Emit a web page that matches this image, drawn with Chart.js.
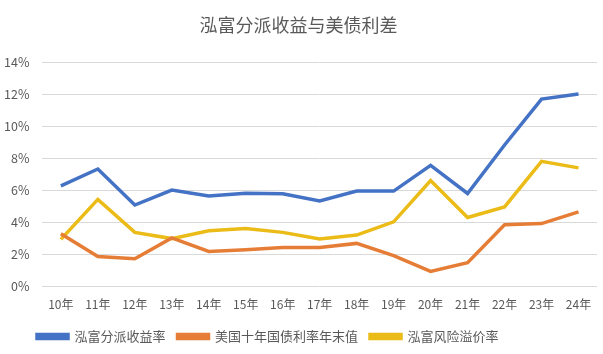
<!DOCTYPE html>
<html>
<head>
<meta charset="utf-8">
<script src="https://cdn.jsdelivr.net/npm/chart.js@4/dist/chart.umd.min.js"></script>
<style>
  html, body { margin: 0; padding: 0; background: #fff; }
  #wrap { width: 603px; height: 354px; }
</style>
</head>
<body>
<div id="wrap"><canvas id="grafico"></canvas></div>
<script>
// categorias e séries (%)
const anos = ["10年", "11年", "12年", "13年", "14年", "15年", "16年", "17年", "18年", "19年", "20年", "21年", "22年", "23年", "24年"];
const rendimento = [6.3, 7.35, 5.1, 6.03, 5.66, 5.84, 5.8, 5.35, 5.97, 5.97, 7.58, 5.82, 8.85, 11.72, 12.04];
const treasury = [3.3, 1.88, 1.74, 3.04, 2.2, 2.3, 2.45, 2.45, 2.7, 1.94, 0.95, 1.49, 3.86, 3.94, 4.67];
const premio = [2.95, 5.45, 3.39, 3.0, 3.49, 3.63, 3.39, 2.97, 3.22, 4.05, 6.63, 4.32, 4.98, 7.83, 7.42];
const yTicks = [0, 2, 4, 6, 8, 10, 12, 14];

const fonte = '"Noto Sans CJK SC", "Noto Sans", sans-serif';
const cinza = '#595959';

function serie(label, data, cor) {
    return {
        label,
        data,
        borderColor: cor,
        backgroundColor: cor,
        borderWidth: 3.5,
        pointRadius: 0,
        tension: 0,
        fill: false
    };
}

// a legenda do original fica um pouco à esquerda do centro
const deslocaLegenda = {
    id: 'deslocaLegenda',
    afterLayout(chart) {
        const lg = chart.legend;
        if (!lg || !lg.lineWidths) return;
        const inicio = 37;
        const atual = (lg.left + lg.options.labels.padding + lg.right - lg.lineWidths[0]) / 2;
        const dx = inicio - atual;
        lg.left += dx;
        lg.right += dx;
    }
};

new Chart(document.getElementById('grafico').getContext('2d'), {
    type: 'line',
    data: {
        labels: anos,
        datasets: [
            serie('泓富分派收益率', rendimento, '#4472C4'),
            serie('美国十年国债利率年末值', treasury, '#E67D36'),
            serie('泓富风险溢价率', premio, '#EBBB18')
        ]
    },
    options: {
        responsive: true,
        maintainAspectRatio: false,
        animation: false,
        layout: { padding: { left: 0, right: 6, top: 8, bottom: 1 } },
        plugins: {
            title: {
                display: true,
                text: '泓富分派收益与美债利差',
                color: cinza,
                font: { family: fonte, size: 18, weight: 'normal' },
                padding: { top: 6, bottom: 27 }
            },
            legend: {
                position: 'bottom',
                labels: {
                    color: cinza,
                    font: { family: fonte, size: 13 },
                    boxWidth: 31,
                    boxHeight: 4,
                    padding: 12
                }
            },
            tooltip: { enabled: false }
        },
        scales: {
            x: {
                offset: true,
                grid: { display: false },
                border: { display: false },
                afterFit: axis => { axis.height += 3; },
                ticks: { color: cinza, font: { family: fonte, size: 12 }, maxRotation: 0, padding: 3 }
            },
            y: {
                min: 0,
                max: 14,
                afterBuildTicks: axis => { axis.ticks = yTicks.map(v => ({ value: v })); },
                afterFit: axis => { axis.width -= 9; },
                grid: { color: '#d9d9d9', drawTicks: false },
                border: { display: false },
                ticks: {
                    color: cinza,
                    font: { family: fonte, size: 12.5 },
                    padding: 13,
                    callback: v => v + '%'
                }
            }
        }
    },
    plugins: [deslocaLegenda]
});
</script>
</body>
</html>
